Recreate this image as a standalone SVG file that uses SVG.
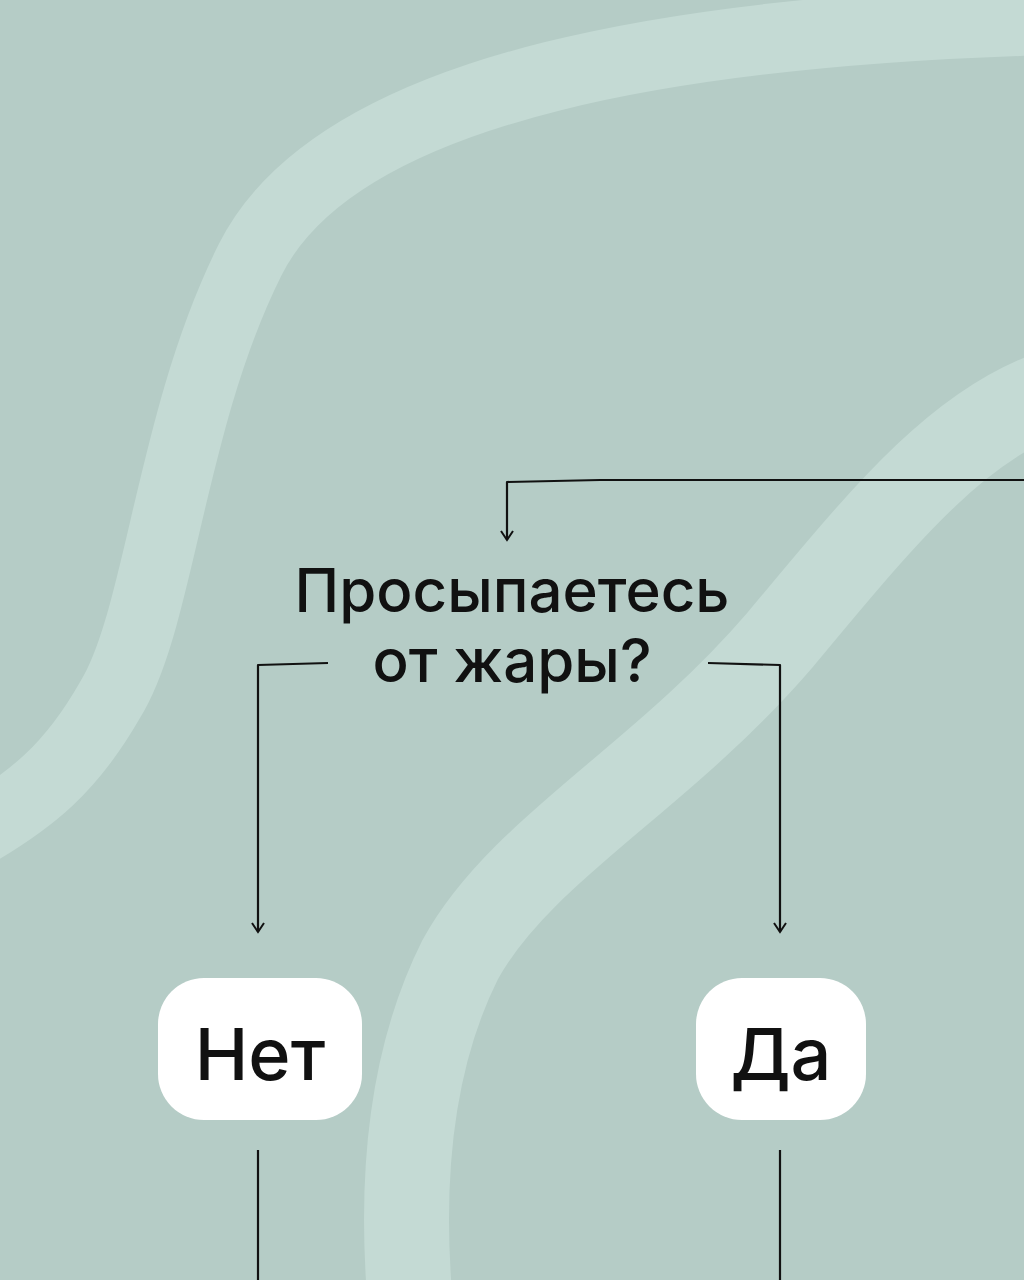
<svg xmlns="http://www.w3.org/2000/svg" width="1024" height="1280" viewBox="0 0 1024 1280">
<style>
.brush{fill:none;stroke:#c4dad4;stroke-linecap:round}
.c{fill:none;stroke:#111;stroke-width:2.2;stroke-linejoin:round}
.t{font-family:Inter,"Liberation Sans",sans-serif;font-weight:500;fill:#111}
.box{fill:#fff}
</style>
<defs>
<marker id="ah" viewBox="0 0 14 14" refX="12" refY="7" markerWidth="14" markerHeight="14" markerUnits="userSpaceOnUse" orient="auto">
<path d="M3 1 L12 7 L3 13" fill="none" stroke="#111" stroke-width="2"/>
</marker>
</defs>
<rect width="1024" height="1280" fill="#b5ccc6"/>
<path class="brush" stroke-width="70" d="M1050 20 C700 30 340 80 250 260 C170 420 160 620 110 700 C70 770 30 800 -20 830"/>
<path class="brush" stroke-width="85" d="M1060 390 C960 420 880 520 780 640 C660 780 520 850 460 960 C410 1060 400 1180 410 1300"/>
<g id="connectors">
<path class="c" marker-end="url(#ah)" d="M1024 480 L600 480 L507 482 L507 540"/>
<path class="c" marker-end="url(#ah)" d="M328 663 L258 665 L258 932"/>
<path class="c" marker-end="url(#ah)" d="M708 663 L780 665 L780 932"/>
<path class="c" d="M258 1150 L258 1280"/>
<path class="c" d="M780 1150 L780 1280"/>
</g>
<g id="question">
<text class="t" x="512" y="612" font-size="60" text-anchor="middle">Просыпаетесь</text>
<text class="t" x="512" y="682" font-size="60" text-anchor="middle">от жары?</text>
</g>
<g id="no">
<rect class="box" x="158" y="978" width="204" height="142" rx="46"/>
<text class="t" x="260" y="1080" font-size="72" text-anchor="middle">Нет</text>
</g>
<g id="yes">
<rect class="box" x="696" y="978" width="170" height="142" rx="46"/>
<text class="t" x="781" y="1080" font-size="72" text-anchor="middle">Да</text>
</g>
</svg>
